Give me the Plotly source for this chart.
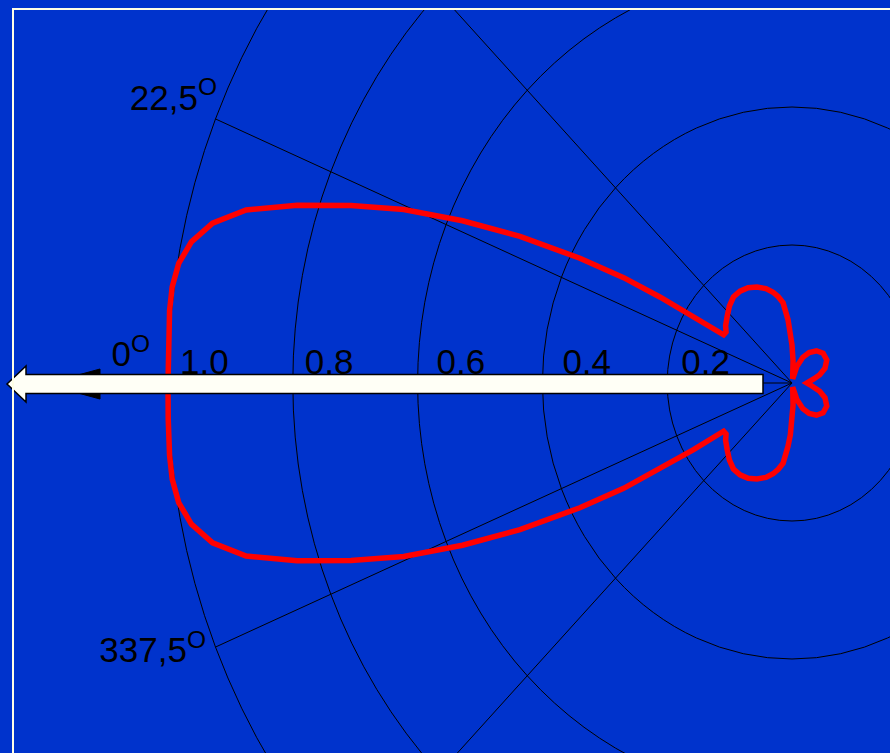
import numpy as np
import plotly.graph_objects as go

# ---------------- data ----------------
# radiation pattern: angle (deg, measured from the 0° direction) and normalised field strength
theta_deg = [0, 3, 6, 8, 10, 12, 14, 16, 18, 20, 22, 24, 26, 28, 29.5, 30.5, 31.5, 32.5, 35, 38,
             43, 48, 53, 58, 63, 68, 73, 77, 80, 83, 86, 88, 90, 93, 96, 100, 108, 115, 122, 130,
             139, 149, 158, 165, 170, 175, 180,
             185, 190, 195, 202, 211, 221, 230, 238, 245, 252, 260, 264, 267, 270, 272, 274, 277,
             280, 283, 287, 292, 297, 302, 307, 312, 317, 322, 325, 327.5, 328.5, 329.5, 330.5,
             332, 334, 336, 338, 340, 342, 344, 346, 348, 350, 352, 354, 357, 360]
field_r = [1.000, 1.001, 1.003, 1.003, 0.998, 0.984, 0.957, 0.910, 0.834, 0.752, 0.671, 0.578,
           0.485, 0.385, 0.310, 0.245, 0.185, 0.130, 0.129, 0.135, 0.142, 0.150, 0.156, 0.157,
           0.155, 0.150, 0.143, 0.135, 0.127, 0.117, 0.092, 0.075, 0.055, 0.032, 0.012, 0.006,
           0.025, 0.041, 0.052, 0.061, 0.066, 0.065, 0.057, 0.046, 0.036, 0.029, 0.024,
           0.029, 0.036, 0.046, 0.057, 0.065, 0.066, 0.061, 0.052, 0.041, 0.025, 0.006, 0.012,
           0.032, 0.055, 0.075, 0.092, 0.117, 0.127, 0.135, 0.143, 0.150, 0.155, 0.157, 0.156,
           0.150, 0.142, 0.135, 0.129, 0.130, 0.185, 0.245, 0.310, 0.385, 0.485, 0.578, 0.671,
           0.752, 0.834, 0.910, 0.957, 0.984, 0.998, 1.003, 1.003, 1.001, 1.000]

ring_values = [0.2, 0.4, 0.6, 0.8, 1.0]
ring_labels = ["0,2", "0,4", "0,6", "0,8", "1,0"]
spoke_angles = [22.5, 45, 315, 337.5]
angle_label_values = [0, 22.5, 337.5]
angle_labels = ["0<sup>O</sup>", "22,5<sup>O</sup>", "337,5<sup>O</sup>"]

# ---------------- layout geometry ----------------
W, H = 890, 753
ML, MT = 13, 9           # plot area starts here (frame)
CX, CY = 792, 383        # pixel position of the pattern centre
SX, SY = 624, 690        # pixels per unit (horizontal / vertical)
x_range = [(ML - CX) / SX, (W - CX) / SX]
y_range = [(CY - H) / SY, (CY - MT) / SY]

BLUE = "#0033CC"
FONT = "Liberation Sans, Arial, sans-serif"
FS = 35

RING_LABEL_SHIFT = [14, 20, 19, 12, 12]   # px to the right of each ring


def pol(r, a_deg):
    a = np.deg2rad(a_deg)
    return -r * np.cos(a), r * np.sin(a)


def px(x):  # pixel -> paper x
    return (x - ML) / (W - ML)


def py(y):  # pixel -> paper y
    return (H - y) / (H - MT)


th = np.array(theta_deg, dtype=float)
rr = np.array(field_r, dtype=float)
cx_, cy_ = pol(rr, th)

fig = go.Figure()

# pattern
fig.add_trace(go.Scatter(x=cx_, y=cy_, mode="lines",
                         line=dict(color="#FF0000", width=5.5),
                         hoverinfo="skip", showlegend=False))

# ring labels
fig.add_trace(go.Scatter(x=[-r + s / SX for r, s in zip(ring_values, RING_LABEL_SHIFT)],
                         y=[0.0] * len(ring_values),
                         mode="text", text=ring_labels, textposition="top right",
                         textfont=dict(family=FONT, size=FS, color="black"),
                         hoverinfo="skip", showlegend=False, cliponaxis=False))

# angle labels (placed near the ends of their spokes)
lab_offsets = {0: (-680.5, -8.0, "top right"), 22.5: (1.5, -0.5, "top left"),
               337.5: (-9.5, 24.0, "top left")}
lx, ly, lp = [], [], []
for a in angle_label_values:
    dxp, dyp, pos = lab_offsets[a]
    if a == 0:
        ex, ey = 0.0, 0.0
    else:
        ex, ey = pol(1.0, a)
    lx.append(ex + dxp / SX)
    ly.append(ey - dyp / SY)
    lp.append(pos)
fig.add_trace(go.Scatter(x=lx, y=ly, mode="text", text=angle_labels, textposition=lp,
                         textfont=dict(family=FONT, size=FS, color="black"),
                         hoverinfo="skip", showlegend=False, cliponaxis=False))

shapes = []
for r in ring_values:
    shapes.append(dict(type="circle", xref="x", yref="y", x0=-r, x1=r, y0=-r, y1=r,
                       line=dict(color="black", width=1), layer="below"))
for a in spoke_angles:
    ex, ey = pol(1.0, a)
    shapes.append(dict(type="line", xref="x", yref="y", x0=0, y0=0, x1=ex, y1=ey,
                       line=dict(color="black", width=1), layer="below"))
shapes.append(dict(type="line", xref="x", yref="y", x0=0, y0=0, x1=-1.11, y1=0,
                   line=dict(color="black", width=1), layer="below"))

# arrowhead of the 0° axis (mostly hidden by the big arrow)
shapes.append(dict(type="path", xref="paper", yref="paper",
                   path=f"M {px(45)},{py(384)} L {px(100)},{py(369)} L {px(100)},{py(399)} Z",
                   fillcolor="black", line=dict(color="black", width=1), layer="above"))

# big white arrow showing the main direction
ay = 384
arrow = [(7, ay), (26, ay - 18), (26, ay - 9.5), (763, ay - 9.5), (763, ay + 9.5),
         (26, ay + 9.5), (26, ay + 18)]
path = "M " + " L ".join(f"{px(a)},{py(b)}" for a, b in arrow) + " Z"
shapes.append(dict(type="path", xref="paper", yref="paper", path=path,
                   fillcolor="#FFFFF6", line=dict(color="black", width=1.5), layer="above"))

# frame
shapes.append(dict(type="rect", xref="paper", yref="paper", x0=0, y0=-0.02, x1=1.02, y1=1,
                   line=dict(color="#FFFFE6", width=2), layer="above"))

fig.update_layout(
    width=W, height=H,
    margin=dict(l=ML, r=0, t=MT, b=0, pad=0),
    paper_bgcolor=BLUE, plot_bgcolor=BLUE,
    shapes=shapes,
    showlegend=False,
    hovermode=False,
    xaxis=dict(range=x_range, visible=False, showgrid=False, zeroline=False, fixedrange=True),
    yaxis=dict(range=y_range, visible=False, showgrid=False, zeroline=False, fixedrange=True),
)

fig.write_html("out.html",
               config={"displayModeBar": False, "staticPlot": True},
               post_script="document.body.style.margin='0px';"
                           "document.body.style.padding='0px';"
                           "document.body.style.background='" + BLUE + "';")
